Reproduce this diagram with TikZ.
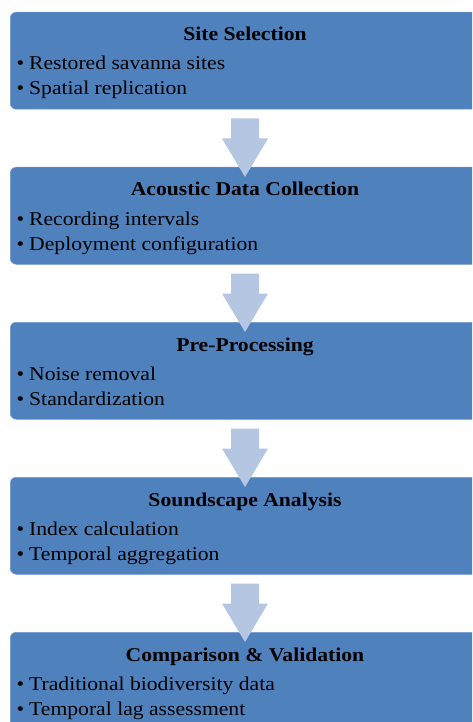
\documentclass[tikz,border=0pt]{standalone}
\usepackage{fontspec}
\setmainfont{Liberation Serif}[FakeStretch=1.11]
\usetikzlibrary{calc}
\definecolor{boxblue}{HTML}{4F81BD}
\definecolor{arrowblue}{HTML}{B4C6E1}
\tikzset{
  x=1pt, y=1pt,
  stagebox/.style={fill=boxblue, draw=boxblue!80!white, line width=0.5pt, rounded corners=6pt, minimum width=472pt, minimum height=97pt, inner sep=0pt},
  stagetitle/.style={font=\fontsize{19.5}{21}\selectfont\bfseries, text=black, inner sep=0pt, anchor=base},
  bulletdot/.style={font=\fontsize{19.5}{21}\selectfont, text=black, inner sep=0pt, anchor=base west},
  bullettext/.style={font=\fontsize{19.5}{21}\selectfont, text=black, inner sep=0pt, anchor=base west},
  flowarrow/.style={fill=arrowblue, draw=none},
}
\begin{document}
\begin{tikzpicture}
\useasboundingbox (0,0) rectangle (472,-722);
\clip (0,0) rectangle (472,-722);
\foreach \i/\t/\a/\b in {
  0/{Site Selection}/{Restored savanna sites}/{Spatial replication},
  1/{Acoustic Data Collection}/{Recording intervals}/{Deployment configuration},
  2/{Pre-Processing}/{Noise removal}/{Standardization},
  3/{Soundscape Analysis}/{Index calculation}/{Temporal aggregation},
  4/{Comparison \& Validation}/{Traditional biodiversity data}/{Temporal lag assessment}}{
  \pgfmathsetmacro{\top}{-12-155*\i}
  \node[stagebox, anchor=north west] (box\i) at (10,\top) {};
  \node[stagetitle] (title\i) at ($(box\i.north west)+(235,-29)$) {\t};
  \node[bulletdot] (dota\i) at ($(box\i.north west)+(6.5,-58)$) {•};
  \node[bullettext] (texta\i) at ($(box\i.north west)+(19,-58)$) {\a};
  \node[bulletdot] (dotb\i) at ($(box\i.north west)+(6.5,-83)$) {•};
  \node[bullettext] (textb\i) at ($(box\i.north west)+(19,-83)$) {\b};
}
\foreach \i [evaluate=\i as \j using int(\i+1)] in {0,1,2,3}{
  \coordinate (s\i) at ($(box\i.south west)+(235,-9)$);
  \fill[flowarrow] ($(s\i)+(-14,0)$) -- ($(s\i)+(14,0)$) -- ($(s\i)+(14,-20)$) -- ($(s\i)+(23,-20)$)
     -- ($(box\j.north west)+(235,-10)$) -- ($(s\i)+(-23,-20)$) -- ($(s\i)+(-14,-20)$) -- cycle;
}
\end{tikzpicture}
\end{document}
